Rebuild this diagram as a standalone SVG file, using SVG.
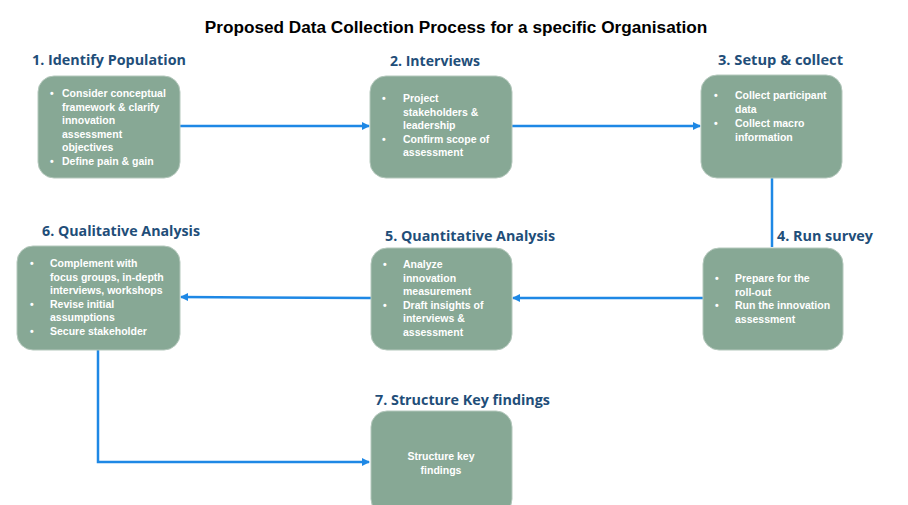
<svg xmlns="http://www.w3.org/2000/svg" width="908" height="505" viewBox="0 0 908 505">
<style>
.box{fill:#87A895;stroke:#B4C8BC;stroke-width:1}
.t{font-family:"Liberation Sans",Arial,sans-serif;font-weight:bold;font-size:10.5px;fill:#FFFFFF}
.h{font-family:"Open Sans","Liberation Sans",sans-serif;font-weight:bold;font-size:15px;fill:#1F4E79}
.c{fill:none;stroke:#1E88E5;stroke-width:2.5}
</style>
<defs>
<marker id="ar" markerWidth="8" markerHeight="8" refX="7" refY="4" orient="auto" markerUnits="userSpaceOnUse">
<path d="M0,0 L8,4 L0,8 Z" fill="#1E88E5"/>
</marker>
</defs>
<rect width="908" height="505" fill="#FFFFFF"/>
<text x="456" y="33" text-anchor="middle" font-family="'Liberation Sans',Arial,sans-serif" font-weight="bold" font-size="17.2" fill="#000000">Proposed Data Collection Process for a specific Organisation</text>
<g id="connectors">
<path class="c" d="M180,126 H369" marker-end="url(#ar)"/>
<path class="c" d="M512,126 H700" marker-end="url(#ar)"/>
<path class="c" d="M772,178 V247"/>
<path class="c" d="M703,298 H513" marker-end="url(#ar)"/>
<path class="c" d="M371,298 L181,297" marker-end="url(#ar)"/>
<path class="c" d="M98,350 V462 H369" marker-end="url(#ar)"/>
</g>
<g id="n1">
<text class="h" x="32" y="65" textLength="154" lengthAdjust="spacingAndGlyphs">1. Identify Population</text>
<rect class="box" x="38" y="76" width="142" height="102" rx="16"/>
<text class="t"><tspan x="50" y="97">•</tspan><tspan x="62" y="97">Consider conceptual</tspan><tspan x="62" y="110.5">framework &amp; clarify</tspan><tspan x="62" y="124">innovation</tspan><tspan x="62" y="137.5">assessment</tspan><tspan x="62" y="151">objectives</tspan><tspan x="50" y="164.5">•</tspan><tspan x="62" y="164.5">Define pain &amp; gain</tspan></text>
</g>
<g id="n2">
<text class="h" x="390" y="66" textLength="90" lengthAdjust="spacingAndGlyphs">2. Interviews</text>
<rect class="box" x="370" y="76" width="142" height="102" rx="16"/>
<text class="t"><tspan x="382" y="102">•</tspan><tspan x="403" y="102">Project</tspan><tspan x="403" y="115.5">stakeholders &amp;</tspan><tspan x="403" y="129">leadership</tspan><tspan x="382" y="142.5">•</tspan><tspan x="403" y="142.5">Confirm scope of</tspan><tspan x="403" y="156">assessment</tspan></text>
</g>
<g id="n3">
<text class="h" x="718" y="65" textLength="125" lengthAdjust="spacingAndGlyphs">3. Setup &amp; collect</text>
<rect class="box" x="701" y="75" width="141" height="103" rx="16"/>
<text class="t"><tspan x="714" y="99">•</tspan><tspan x="735" y="99">Collect participant</tspan><tspan x="735" y="112.5">data</tspan><tspan x="714" y="127">•</tspan><tspan x="735" y="127">Collect macro</tspan><tspan x="735" y="140.5">information</tspan></text>
</g>
<g id="n4">
<text class="h" x="777" y="241" textLength="96" lengthAdjust="spacingAndGlyphs">4. Run survey</text>
<rect class="box" x="703" y="248" width="140" height="102" rx="16"/>
<text class="t"><tspan x="715" y="282">•</tspan><tspan x="735" y="282">Prepare for the</tspan><tspan x="735" y="295.5">roll-out</tspan><tspan x="715" y="309">•</tspan><tspan x="735" y="309">Run the innovation</tspan><tspan x="735" y="322.5">assessment</tspan></text>
</g>
<g id="n5">
<text class="h" x="385" y="241" textLength="170" lengthAdjust="spacingAndGlyphs">5. Quantitative Analysis</text>
<rect class="box" x="371" y="248" width="141" height="102" rx="16"/>
<text class="t"><tspan x="383" y="268">•</tspan><tspan x="403" y="268">Analyze</tspan><tspan x="403" y="281.5">innovation</tspan><tspan x="403" y="295">measurement</tspan><tspan x="383" y="308.5">•</tspan><tspan x="403" y="308.5">Draft insights of</tspan><tspan x="403" y="322">interviews &amp;</tspan><tspan x="403" y="335.5">assessment</tspan></text>
</g>
<g id="n6">
<text class="h" x="42" y="236" textLength="158" lengthAdjust="spacingAndGlyphs">6. Qualitative Analysis</text>
<rect class="box" x="17" y="246" width="163" height="104" rx="16"/>
<text class="t"><tspan x="30" y="267">•</tspan><tspan x="50" y="267">Complement with</tspan><tspan x="50" y="280.5">focus groups, in-depth</tspan><tspan x="50" y="294">interviews, workshops</tspan><tspan x="30" y="307.5">•</tspan><tspan x="50" y="307.5">Revise initial</tspan><tspan x="50" y="321">assumptions</tspan><tspan x="30" y="334.5">•</tspan><tspan x="50" y="334.5">Secure stakeholder</tspan></text>
</g>
<g id="n7">
<text class="h" x="375" y="405" textLength="175" lengthAdjust="spacingAndGlyphs">7. Structure Key findings</text>
<rect class="box" x="371" y="411" width="141" height="104" rx="16"/>
<text class="t" text-anchor="middle"><tspan x="441" y="460">Structure key</tspan><tspan x="441" y="473.5">findings</tspan></text>
</g>
</svg>
